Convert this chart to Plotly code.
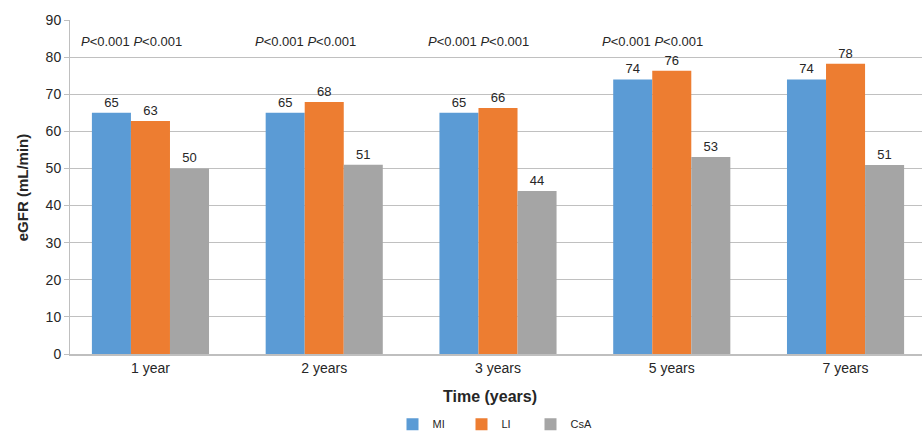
import plotly.graph_objects as go

categories = ["1 year", "2 years", "3 years", "5 years", "7 years"]
mi_values = [65, 65, 65, 74, 74]
li_values = [62.8, 67.9, 66.3, 76.3, 78.2]
csa_values = [50, 51, 43.9, 53.1, 50.9]
mi_labels = ["65", "65", "65", "74", "74"]
li_labels = ["63", "68", "66", "76", "78"]
csa_labels = ["50", "51", "44", "53", "51"]
p_text_groups = [0, 1, 2, 3]
p_text = "<i>P</i><0.001 <i>P</i><0.001"
y_ticks = [0, 10, 20, 30, 40, 50, 60, 70, 80, 90]

FONT = "Liberation Sans, Arial, sans-serif"
TXT = "#262626"

fig = go.Figure()
for name, vals, labs, col in [
    ("MI", mi_values, mi_labels, "#5B9BD5"),
    ("LI", li_values, li_labels, "#ED7D31"),
    ("CsA", csa_values, csa_labels, "#A5A5A5"),
]:
    fig.add_trace(go.Bar(
        name=name, x=categories, y=vals, text=labs,
        textposition="outside", textfont=dict(size=13, color=TXT, family=FONT),
        marker=dict(color=col, line=dict(width=0)),
        cliponaxis=False, constraintext="none", hoverinfo="skip",
    ))

for i in p_text_groups:
    fig.add_annotation(x=i - 0.11, y=84.2, xref="x", yref="y", text=p_text,
                       showarrow=False, font=dict(size=13, color=TXT, family=FONT),
                       xanchor="center", yanchor="middle")

fig.add_annotation(x=0.493, y=-0.126, xref="paper", yref="paper", text="<b>Time (years)</b>",
                   showarrow=False, font=dict(size=16, color=TXT, family=FONT),
                   xanchor="center", yanchor="middle")
fig.add_annotation(x=-0.056, y=0.5, xref="paper", yref="paper", text="<b>eGFR (mL/min)</b>",
                   showarrow=False, textangle=-90, font=dict(size=15, color=TXT, family=FONT),
                   xanchor="center", yanchor="middle")

fig.update_layout(
    width=922, height=432,
    margin=dict(l=70, r=0, t=20, b=78, autoexpand=False),
    paper_bgcolor="white", plot_bgcolor="white",
    barmode="group", bargap=0.326, bargroupgap=0,
    font=dict(family=FONT, color=TXT),
    showlegend=True,
    legend=dict(orientation="h", x=0.5, xanchor="center", y=-0.21, yanchor="middle",
                font=dict(size=11, color=TXT, family=FONT), itemwidth=30,
                entrywidth=24, traceorder="normal", tracegroupgap=0),
    xaxis=dict(range=[-0.463, 4.44], showgrid=False, showline=True, linecolor="#BFBFBF",
               linewidth=2, ticks="", tickfont=dict(size=14, color=TXT, family=FONT),
               fixedrange=True, automargin=False),
    yaxis=dict(range=[0, 90], tickvals=y_ticks, showgrid=True, gridcolor="#C0C0C0",
               gridwidth=1, showline=True, linecolor="#BFBFBF", linewidth=1,
               ticks="outside", ticklen=5, tickcolor="#BFBFBF",
               tickfont=dict(size=14, color=TXT, family=FONT), zeroline=False,
               fixedrange=True, automargin=False),
)

fig.write_html("out.html", config={"displayModeBar": False},
               post_script="document.body.style.margin='0';document.body.style.overflow='hidden';")
